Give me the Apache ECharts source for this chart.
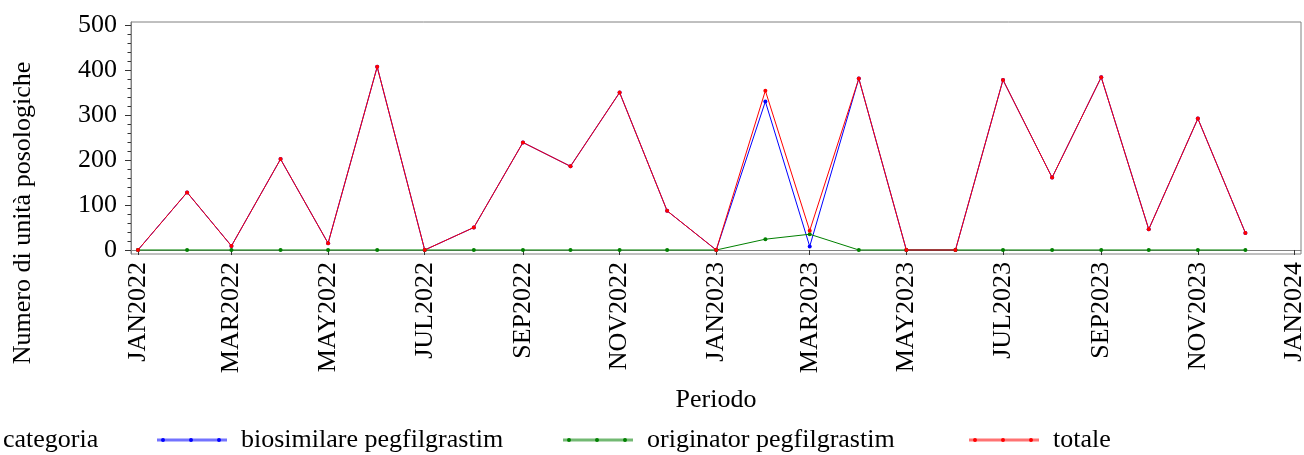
<!DOCTYPE html>
<html>
<head>
<meta charset="utf-8">
<script src="https://cdn.jsdelivr.net/npm/echarts@6/dist/echarts.min.js"></script>
<style>
html,body{margin:0;padding:0;background:#fff;}
#chart{width:1304px;height:455px;}
</style>
</head>
<body>
<div id="chart"></div>
<script>
// ---- data ----
const months = ['2022-01','2022-02','2022-03','2022-04','2022-05','2022-06','2022-07','2022-08','2022-09','2022-10','2022-11','2022-12',
                '2023-01','2023-02','2023-03','2023-04','2023-05','2023-06','2023-07','2023-08','2023-09','2023-10','2023-11','2023-12'];
const biosimilare = [0,128,9,202,15,407,0,50,239,186,350,87,0,330,8,381,0,0,378,161,384,46,292,38];
const originator  = [0,0,0,0,0,0,0,0,0,0,0,0,0,24,35,0,0,0,0,0,0,0,0,0];
const totale      = [0,128,9,202,15,407,0,50,239,186,350,87,0,354,43,381,0,0,378,161,384,46,292,38];
const xTickMonths = ['2022-01','2022-03','2022-05','2022-07','2022-09','2022-11','2023-01','2023-03','2023-05','2023-07','2023-09','2023-11','2024-01'];
const yTicks = [0,100,200,300,400,500];
const yMinorTicks = [20,40,60,80,120,140,160,180,220,240,260,280,320,340,360,380,420,440,460,480];
const seriesNames = ['biosimilare pegfilgrastim','originator pegfilgrastim','totale'];
const monthAbbr = ['JAN','FEB','MAR','APR','MAY','JUN','JUL','AUG','SEP','OCT','NOV','DEC'];

function ts(m){ const p = m.split('-'); return Date.UTC(+p[0], +p[1]-1, 1); }
function pairs(vals){ return months.map((m,i)=>[ts(m), vals[i]]); }
const DAY = 86400000;
const FONT = '"Liberation Serif", "Times New Roman", serif';
const colors = ['#0000ff','#008000','#ff0000'];

const chart = echarts.init(document.getElementById('chart'), null, {renderer:'canvas'});

const linePath = 'path://M0,0L70,0L70,3L0,3Z';
const dotsPath = 'path://M0,2a2,2 0 1,0 4,0a2,2 0 1,0 -4,0Z M28,2a2,2 0 1,0 4,0a2,2 0 1,0 -4,0Z M56,2a2,2 0 1,0 4,0a2,2 0 1,0 -4,0Z';
const legendLefts = [157, 563, 969];
const legends = [];
seriesNames.forEach((n,i)=>{
  legends.push({
    data:[n], left: legendLefts[i], top: 427, padding: 0, orient:'horizontal',
    selectedMode:false, icon: linePath, itemWidth:70, itemHeight:3,
    itemStyle:{opacity:0.55, borderWidth:0},
    textStyle:{fontFamily:FONT, fontSize:26, color:'#000', padding:[0,0,0,9]}
  });
  legends.push({
    data:[n], left: legendLefts[i]+4, top: 427, padding: 0, orient:'horizontal',
    selectedMode:false, icon: dotsPath, itemWidth:60, itemHeight:4,
    itemStyle:{opacity:1, borderWidth:0},
    textStyle:{fontFamily:FONT, fontSize:26, color:'rgba(0,0,0,0)', padding:[0,0,0,9]}
  });
});

const seriesData = [biosimilare, originator, totale];
const option = {
  animation:false,
  backgroundColor:'#fff',
  title:{text:'categoria', left:3, top:427, padding:0,
    textStyle:{fontFamily:FONT, fontSize:26, fontWeight:'normal', color:'#000'}},
  legend: legends,
  grid:{left:131, top:22, right:3, bottom:201, show:true, borderColor:'#808080', borderWidth:1,
        containLabel:false, outerBoundsMode:'none'},
  xAxis:{
    type:'value',
    min: ts('2022-01') - 4.4*DAY,
    max: ts('2024-01') + 4.1*DAY,
    name:'Periodo', nameLocation:'middle', nameGap:133,
    nameTextStyle:{fontFamily:FONT, fontSize:26, color:'#000'},
    axisLine:{show:true, lineStyle:{color:'#808080', width:1}},
    axisTick:{show:true, customValues: xTickMonths.map(ts), length:5, lineStyle:{color:'#333'}},
    axisLabel:{show:true, customValues: xTickMonths.map(ts), rotate:90, margin:8,
      fontFamily:FONT, fontSize:26, color:'#000',
      formatter:function(v){ const d = new Date(v); return monthAbbr[d.getUTCMonth()] + d.getUTCFullYear(); }},
    splitLine:{show:false}
  },
  yAxis:[{
    type:'value', min:-8.9, max:506.7, position:'left',
    axisLine:{show:true, lineStyle:{color:'#808080', width:1}},
    axisTick:{show:true, customValues:yTicks, length:6, lineStyle:{color:'#333'}},
    axisLabel:{show:true, customValues:yTicks, margin:14, fontFamily:FONT, fontSize:26, color:'#000'},
    splitLine:{show:false}
  },{
    type:'value', min:-8.9, max:506.7, position:'left', offset:0,
    axisLine:{show:false},
    axisTick:{show:true, customValues:yMinorTicks, length:3.5, lineStyle:{color:'#333'}},
    axisLabel:{show:false},
    splitLine:{show:false}
  }],
  graphic:[{
    type:'text', x:23, y:213, rotation:Math.PI/2,
    style:{text:'Numero di unità posologiche', fontFamily:FONT, fontSize:26, fill:'#000', align:'center', verticalAlign:'middle'}
  }],
  series: seriesNames.map((n,i)=>({
    name:n, type:'line', data:pairs(seriesData[i]), xAxisIndex:0, yAxisIndex:0,
    symbol:'circle', symbolSize:4, showSymbol:true, showAllSymbol:true,
    lineStyle:{color:colors[i], width:1},
    itemStyle:{color:colors[i], borderWidth:0},
    emphasis:{disabled:true}, silent:true, z: 2+i
  }))
};
chart.setOption(option);
</script>
</body>
</html>
